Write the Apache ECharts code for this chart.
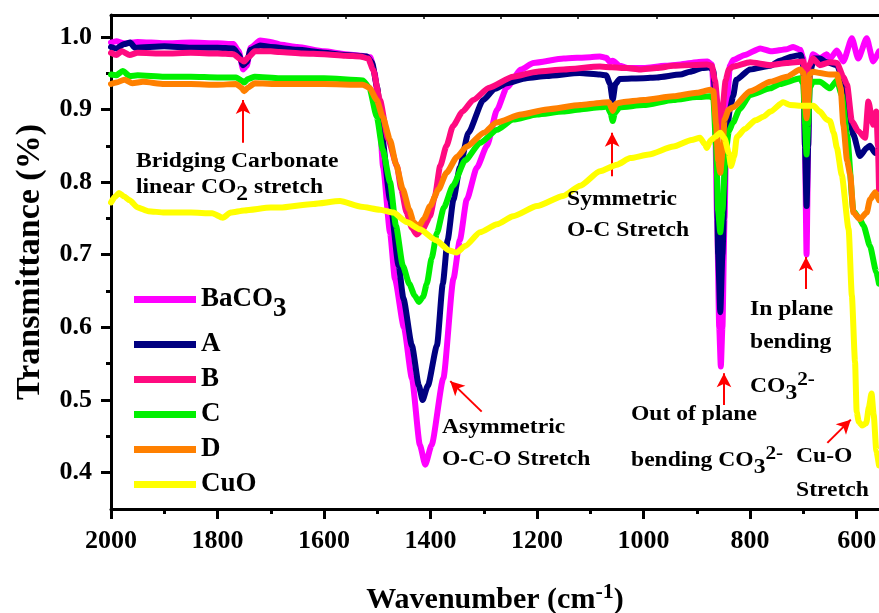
<!DOCTYPE html>
<html><head><meta charset="utf-8">
<script src="https://cdn.jsdelivr.net/npm/echarts@6/dist/echarts.min.js"></script>
<style>html,body{margin:0;padding:0;background:#fff}#c{width:879px;height:613px}</style>
</head><body><div id="c"></div>
<script>
const seriesNames = ['BaCO3', 'A', 'B', 'C', 'D', 'CuO'];
const seriesColors = ['#ff00ff', '#000080', '#ff0a80', '#00f000', '#ff8000', '#ffff00'];

const baco3 = [[2000,0.992],[1990,0.994],[1975,0.991],[1950,0.993],[1900,0.991],[1850,0.992],[1800,0.991],[1770,0.99],[1760,0.98],[1752,0.955],[1745,0.96],[1738,0.985],[1720,0.995],[1700,0.993],[1680,0.989],[1650,0.986],[1600,0.98],[1560,0.976],[1530,0.974],[1513,0.972],[1505,0.95],[1497,0.9],[1489,0.82],[1476,0.73],[1467,0.667],[1450,0.6],[1435,0.53],[1420,0.438],[1410,0.411],[1398,0.438],[1376,0.53],[1357,0.667],[1345,0.72],[1332,0.776],[1313,0.82],[1294,0.85],[1275,0.9],[1257,0.93],[1230,0.955],[1207,0.964],[1150,0.97],[1100,0.972],[1082,0.973],[1070,0.971],[1063,0.965],[1058,0.967],[1045,0.96],[1030,0.957],[1000,0.957],[960,0.96],[931,0.962],[900,0.965],[880,0.966],[872,0.962],[866,0.9],[862,0.75],[858,0.6],[855,0.546],[852,0.6],[848,0.75],[844,0.9],[838,0.96],[832,0.968],[810,0.975],[781,0.984],[760,0.98],[731,0.983],[719,0.986],[706,0.982],[700,0.97],[697,0.85],[694,0.7],[691,0.85],[688,0.96],[682,0.976],[669,0.97],[656,0.976],[650,0.97],[637,0.981],[625,0.966],[609,0.998],[597,0.97],[581,0.998],[569,0.966],[558,0.98]];
const sampleA = [[2000,0.986],[1990,0.984],[1975,0.99],[1964,0.992],[1955,0.985],[1900,0.987],[1850,0.985],[1800,0.985],[1770,0.984],[1760,0.975],[1752,0.961],[1745,0.965],[1738,0.982],[1720,0.988],[1700,0.986],[1650,0.982],[1600,0.978],[1560,0.975],[1520,0.973],[1510,0.965],[1500,0.93],[1492,0.868],[1476,0.776],[1460,0.685],[1451,0.64],[1435,0.575],[1422,0.52],[1415,0.5],[1405,0.52],[1388,0.575],[1377,0.66],[1368,0.72],[1357,0.776],[1345,0.82],[1329,0.868],[1301,0.913],[1280,0.928],[1257,0.936],[1220,0.943],[1182,0.946],[1120,0.95],[1082,0.948],[1070,0.947],[1063,0.935],[1058,0.913],[1053,0.935],[1045,0.942],[1000,0.943],[975,0.944],[931,0.948],[913,0.952],[890,0.957],[875,0.958],[869,0.953],[864,0.9],[860,0.7],[856,0.621],[852,0.7],[846,0.85],[838,0.9],[832,0.918],[826,0.941],[800,0.955],[762,0.96],[744,0.967],[720,0.973],[705,0.975],[700,0.96],[697,0.85],[694,0.767],[691,0.85],[688,0.95],[680,0.97],[669,0.97],[656,0.965],[637,0.961],[625,0.94],[618,0.911],[606,0.865],[594,0.836],[581,0.847],[575,0.85],[565,0.84],[558,0.845]];
const sampleB = [[2000,0.978],[1990,0.975],[1980,0.98],[1965,0.975],[1950,0.978],[1900,0.977],[1850,0.978],[1800,0.977],[1770,0.976],[1755,0.968],[1750,0.966],[1742,0.972],[1730,0.98],[1700,0.98],[1683,0.979],[1640,0.977],[1600,0.976],[1560,0.974],[1532,0.973],[1517,0.97],[1508,0.955],[1495,0.913],[1480,0.86],[1463,0.822],[1455,0.79],[1445,0.758],[1435,0.737],[1426,0.728],[1415,0.735],[1401,0.753],[1392,0.78],[1382,0.822],[1370,0.85],[1358,0.877],[1340,0.897],[1320,0.913],[1290,0.93],[1245,0.945],[1200,0.952],[1150,0.955],[1082,0.959],[1060,0.958],[1032,0.957],[1007,0.955],[975,0.957],[944,0.96],[881,0.962],[872,0.96],[866,0.94],[860,0.9],[856,0.87],[852,0.9],[846,0.94],[840,0.955],[832,0.959],[800,0.965],[762,0.961],[731,0.964],[700,0.966],[694,0.93],[690,0.96],[682,0.97],[669,0.961],[650,0.965],[637,0.964],[625,0.945],[618,0.934],[609,0.884],[597,0.87],[584,0.861],[578,0.911],[569,0.879],[563,0.897],[560,0.85],[558,0.79]];
const sampleC = [[2000,0.948],[1990,0.947],[1978,0.953],[1965,0.946],[1950,0.947],[1900,0.945],[1850,0.945],[1800,0.944],[1765,0.944],[1755,0.94],[1750,0.937],[1743,0.942],[1730,0.945],[1683,0.943],[1600,0.943],[1527,0.94],[1515,0.93],[1501,0.89],[1490,0.845],[1476,0.8],[1465,0.74],[1452,0.685],[1440,0.66],[1430,0.644],[1422,0.635],[1414,0.642],[1407,0.66],[1398,0.695],[1388,0.73],[1375,0.765],[1358,0.795],[1335,0.83],[1307,0.854],[1275,0.872],[1245,0.886],[1200,0.893],[1151,0.897],[1119,0.9],[1082,0.903],[1068,0.904],[1062,0.895],[1058,0.884],[1054,0.895],[1045,0.903],[1000,0.906],[944,0.913],[900,0.917],[875,0.918],[869,0.915],[864,0.85],[860,0.76],[856,0.731],[852,0.76],[846,0.84],[840,0.87],[832,0.882],[820,0.9],[800,0.92],[762,0.929],[744,0.935],[706,0.943],[700,0.935],[697,0.88],[694,0.838],[691,0.88],[688,0.93],[682,0.938],[669,0.938],[650,0.929],[637,0.94],[628,0.92],[618,0.865],[606,0.76],[595,0.75],[587,0.74],[575,0.712],[563,0.676],[558,0.66]];
const sampleD = [[2000,0.935],[1990,0.937],[1975,0.941],[1960,0.936],[1940,0.938],[1900,0.935],[1850,0.935],[1800,0.934],[1765,0.935],[1755,0.93],[1750,0.925],[1743,0.93],[1730,0.936],[1683,0.935],[1600,0.935],[1527,0.934],[1515,0.93],[1501,0.913],[1490,0.89],[1476,0.858],[1465,0.825],[1452,0.79],[1440,0.762],[1432,0.745],[1423,0.738],[1412,0.75],[1401,0.767],[1385,0.79],[1370,0.813],[1350,0.835],[1332,0.849],[1300,0.868],[1276,0.882],[1230,0.893],[1182,0.9],[1119,0.906],[1082,0.909],[1065,0.91],[1058,0.898],[1052,0.908],[1040,0.91],[1000,0.913],[944,0.918],[900,0.923],[875,0.927],[869,0.925],[864,0.88],[860,0.83],[856,0.813],[852,0.84],[848,0.886],[840,0.9],[832,0.903],[800,0.925],[762,0.938],[731,0.945],[706,0.955],[700,0.95],[697,0.91],[694,0.888],[691,0.91],[688,0.948],[682,0.952],[669,0.95],[650,0.948],[637,0.948],[630,0.93],[625,0.879],[618,0.83],[612,0.81],[606,0.758],[594,0.749],[581,0.758],[575,0.776],[565,0.786],[558,0.775]];
const cuo = [[2000,0.772],[1992,0.78],[1985,0.785],[1975,0.78],[1965,0.775],[1950,0.765],[1930,0.76],[1900,0.758],[1850,0.758],[1810,0.757],[1790,0.751],[1775,0.758],[1750,0.761],[1700,0.765],[1683,0.765],[1620,0.77],[1570,0.774],[1530,0.766],[1495,0.762],[1470,0.758],[1445,0.745],[1420,0.735],[1390,0.72],[1365,0.706],[1351,0.703],[1335,0.712],[1307,0.731],[1275,0.742],[1245,0.753],[1200,0.767],[1151,0.781],[1119,0.795],[1082,0.815],[1050,0.824],[1025,0.833],[990,0.838],[944,0.849],[910,0.858],[894,0.861],[885,0.852],[881,0.847],[875,0.857],[866,0.862],[856,0.868],[848,0.86],[840,0.84],[836,0.822],[830,0.835],[825,0.862],[810,0.873],[790,0.885],[775,0.89],[762,0.897],[738,0.91],[725,0.906],[700,0.905],[681,0.905],[669,0.897],[656,0.886],[650,0.884],[643,0.868],[637,0.847],[628,0.81],[615,0.735],[609,0.644],[603,0.553],[600,0.484],[596,0.47],[590,0.465],[582,0.468],[577,0.49],[572,0.509],[568,0.48],[563,0.43],[558,0.41]];

const xMajorTicks = [600, 800, 1000, 1200, 1400, 1600, 1800, 2000];
const xMinorTicks = [700, 900, 1100, 1300, 1500, 1700, 1900];
const yMajorTicks = [0.4, 0.5, 0.6, 0.7, 0.8, 0.9, 1.0];
const yMinorTicks = [0.45, 0.55, 0.65, 0.75, 0.85, 0.95];
const topTicks = [1851, 1705, 1559, 1413, 1268, 1123, 975, 830, 684];
const xRange = [558, 2000];
const yRange = [0.35, 1.03];

// annotation arrows [from, to] in data coordinates
const arrows = [
  [[1752, 0.854], [1752, 0.913]],
  [[1059, 0.808], [1059, 0.868]],
  [[1304, 0.484], [1363, 0.526]],
  [[849, 0.493], [849, 0.537]],
  [[695, 0.653], [695, 0.697]],
  [[655, 0.441], [611, 0.473]]
];

const seriesData = [baco3, sampleA, sampleB, sampleC, sampleD, cuo];
const FONT = '"Liberation Serif", "Times New Roman", serif';

const chart = echarts.init(document.getElementById('c'), null, {renderer: 'canvas'});

const series = seriesNames.map((n, i) => ({
  name: n, type: 'line', xAxisIndex: 0, yAxisIndex: 0,
  data: seriesData[i], showSymbol: false, symbol: 'none',
  smooth: 0.2, smoothMonotone: 'x',
  lineStyle: {color: seriesColors[i], width: 6, cap: 'round', join: 'round'},
  itemStyle: {color: seriesColors[i]},
  animation: false, z: 2 + i
}));
series[5].markLine = {
  silent: true, animation: false,
  symbol: ['none', 'arrow'], symbolSize: [11, 14],
  label: {show: false},
  lineStyle: {color: '#ff0000', width: 2, type: 'solid'},
  data: arrows.map(a => [{coord: a[0]}, {coord: a[1]}])
};

const txt = (x, y, text, extra) => ({
  type: 'text', x: x, y: y, scaleX: 1.18, z: 100,
  style: Object.assign({
    text: text, fill: '#000', font: 'bold 20px ' + FONT,
    verticalAlign: 'middle', align: 'left',
    rich: {
      sub: {font: 'bold 20px ' + FONT, fill: '#000', padding: [14, 0, 0, 0]},
      sup: {font: 'bold 18px ' + FONT, fill: '#000', padding: [0, 0, 14, 0]}
    }
  }, extra || {})
});

const gridBase = {left: 111, top: 15, right: 0, bottom: 104, containLabel: false, outerBoundsMode: 'none'};

const option = {
  backgroundColor: '#fff',
  animation: false,
  grid: [Object.assign({}, gridBase), Object.assign({}, gridBase)],
  xAxis: [
    {
      type: 'value', gridIndex: 0, position: 'bottom', min: xRange[0], max: xRange[1], inverse: true,
      name: 'Wavenumber (cm{sup|-1})', nameLocation: 'middle', nameGap: 72,
      nameTextStyle: {fontFamily: FONT, fontWeight: 'bold', fontSize: 30, color: '#000',
        rich: {sup: {fontFamily: FONT, fontWeight: 'bold', fontSize: 22, color: '#000', padding: [0, 0, 16, 0]}}},
      axisLine: {show: true, lineStyle: {color: '#000', width: 3}},
      axisTick: {show: true, inside: false, length: 10, lineStyle: {color: '#000', width: 3}, customValues: xMajorTicks},
      axisLabel: {show: true, customValues: xMajorTicks, margin: 19, color: '#000', fontFamily: FONT, fontWeight: 'bold', fontSize: 26,
        formatter: v => String(Math.round(v))},
      splitLine: {show: false}
    },
    {
      type: 'value', gridIndex: 0, position: 'top', min: xRange[0], max: xRange[1], inverse: true,
      axisLine: {show: true, lineStyle: {color: '#000', width: 3}},
      axisTick: {show: true, inside: true, length: 4, lineStyle: {color: '#000', width: 1.5}, customValues: topTicks},
      axisLabel: {show: false}, splitLine: {show: false}
    },
    {
      type: 'value', gridIndex: 1, position: 'bottom', min: xRange[0], max: xRange[1], inverse: true,
      axisLine: {show: false},
      axisTick: {show: true, inside: false, length: 5, lineStyle: {color: '#000', width: 3}, customValues: xMinorTicks},
      axisLabel: {show: false}, splitLine: {show: false}
    }
  ],
  yAxis: [
    {
      type: 'value', gridIndex: 0, position: 'left', min: yRange[0], max: yRange[1],
      name: 'Transmittance (%)', nameLocation: 'middle', nameGap: 64, nameRotate: 90,
      nameTextStyle: {fontFamily: FONT, fontWeight: 'bold', fontSize: 34, color: '#000'},
      axisLine: {show: true, lineStyle: {color: '#000', width: 3}},
      axisTick: {show: true, inside: false, length: 10, lineStyle: {color: '#000', width: 3}, customValues: yMajorTicks},
      axisLabel: {show: true, customValues: yMajorTicks, margin: 19, color: '#000', fontFamily: FONT, fontWeight: 'bold', fontSize: 26,
        formatter: v => Number(v).toFixed(1)},
      splitLine: {show: false}
    },
    {
      type: 'value', gridIndex: 1, position: 'left', min: yRange[0], max: yRange[1],
      axisLine: {show: false},
      axisTick: {show: true, inside: false, length: 5, lineStyle: {color: '#000', width: 3}, customValues: yMinorTicks},
      axisLabel: {show: false}, splitLine: {show: false}
    }
  ],
  legend: {
    orient: 'vertical', left: 129, top: 281,
    itemWidth: 62, itemHeight: 7, itemGap: 8, icon: 'rect',
    data: seriesNames,
    formatter: n => n === 'BaCO3' ? 'BaCO{sub|3}' : n,
    textStyle: {fontFamily: FONT, fontWeight: 'bold', fontSize: 27, color: '#000', lineHeight: 26,
      rich: {sub: {fontFamily: FONT, fontWeight: 'bold', fontSize: 27, color: '#000', padding: [20, 0, 0, 0]}}},
    selectedMode: false
  },
  graphic: [
    txt(136, 162, 'Bridging Carbonate'),
    txt(136, 188, 'linear CO{sub|2} stretch'),
    txt(567, 200, 'Symmetric'),
    txt(567, 231, 'O-C Stretch'),
    txt(442, 428, 'Asymmetric'),
    txt(442, 460, 'O-C-O Stretch'),
    txt(631, 415, 'Out of plane'),
    txt(631, 461, 'bending CO{sub|3}{sup|2-}'),
    txt(750, 310, 'In plane'),
    txt(750, 343, 'bending'),
    txt(750, 387, 'CO{sub|3}{sup|2-}'),
    txt(796, 457, 'Cu-O'),
    txt(796, 491, 'Stretch')
  ],
  series: series
};
chart.setOption(option);
</script></body></html>
